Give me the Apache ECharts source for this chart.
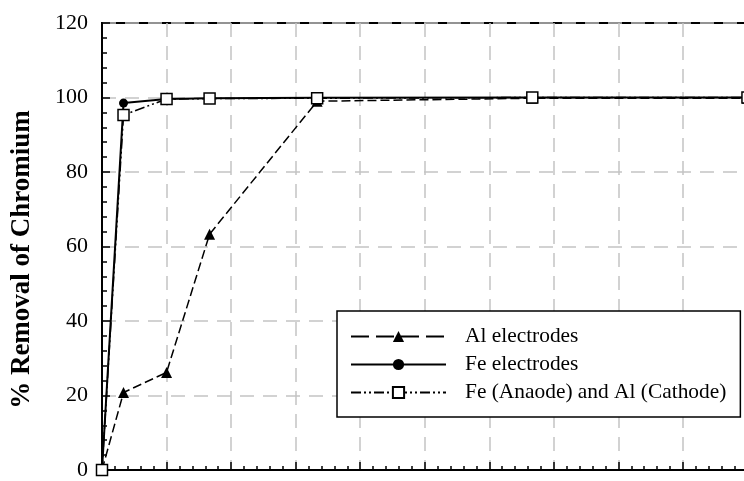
<!DOCTYPE html>
<html>
<head>
<meta charset="utf-8">
<script src="https://cdn.jsdelivr.net/npm/echarts@6/dist/echarts.min.js"></script>
<style>html,body{margin:0;padding:0;background:#fff;overflow:hidden;width:744px;height:481px;}#c{width:830px;height:481px;}</style>
</head>
<body>
<div id="c"></div>
<script>
var time = [0, 5, 15, 25, 50, 100, 150];
var alElectrodes = [0, 20.8, 26.2, 63.3, 99.0, 99.8, 99.8];
var feElectrodes = [0, 98.5, 99.6, 99.8, 99.9, 100, 100];
var feAlElectrodes = [0, 95.3, 99.6, 99.7, 99.8, 100, 100];
var seriesNames = ['Al electrodes', 'Fe electrodes', 'Fe (Anaode) and Al (Cathode)'];
var yTitle = '% Removal of Chromium';

function pairs(ys) { return time.map(function (t, i) { return [t, ys[i]]; }); }

var chart = echarts.init(document.getElementById('c'), null, {renderer: 'canvas'});
var serif = 'Liberation Serif';
chart.setOption({
  animation: false,
  backgroundColor: '#fff',
  grid: {left: 102, top: 23, bottom: 5, right: 18, show: true, borderColor: '#000', borderWidth: 2, backgroundColor: 'transparent'},
  legend: {
    orient: 'vertical', left: 337, top: 311,
    padding: [15, 14, 14, 13],
    backgroundColor: '#fff', borderColor: '#000', borderWidth: 1.5, borderRadius: 0,
    itemWidth: 95, itemHeight: 14, itemGap: 7,
    textStyle: {fontFamily: serif, fontSize: 21.4, color: '#000', padding: [0, 0, 0, 14]},
    data: [
      {name: seriesNames[0], lineStyle: {type: [18, 7]}},
      {name: seriesNames[1]},
      {name: seriesNames[2]}
    ]
  },
  xAxis: {
    type: 'value', min: 0, max: 165, interval: 15,
    axisLine: {show: true, lineStyle: {color: '#000', width: 2}},
    axisTick: {show: true, inside: true, length: 8, lineStyle: {color: '#000', width: 1.5}},
    minorTick: {show: true, splitNumber: 5, length: 4, lineStyle: {color: '#000', width: 1.5}},
    axisLabel: {show: false},
    splitLine: {show: true, lineStyle: {color: '#c4c4c4', width: 1.5, type: [14, 9]}}
  },
  yAxis: {
    type: 'value', min: 0, max: 120, interval: 20,
    name: yTitle, nameLocation: 'middle', nameGap: 66,
    nameTextStyle: {fontFamily: serif, fontSize: 27, fontWeight: 'bold', color: '#000', padding: [0, 26, 0, 0]},
    axisLine: {show: true, lineStyle: {color: '#000', width: 2}},
    axisTick: {show: true, inside: true, length: 8, lineStyle: {color: '#000', width: 1.5}},
    minorTick: {show: true, splitNumber: 5, length: 5, lineStyle: {color: '#000', width: 1.5}},
    axisLabel: {fontFamily: serif, fontSize: 22, color: '#000', margin: 14},
    splitLine: {show: true, lineStyle: {color: '#c4c4c4', width: 1.5, type: [14, 9]}}
  },
  series: [
    {
      name: seriesNames[0], type: 'line', data: pairs(alElectrodes),
      symbol: 'triangle', symbolSize: 11, showAllSymbol: true,
      lineStyle: {color: '#000', width: 1.5, type: [9, 4]},
      itemStyle: {color: '#000', borderColor: '#000', borderWidth: 0}
    },
    {
      name: seriesNames[1], type: 'line', data: pairs(feElectrodes),
      symbol: 'circle', symbolSize: 9, showAllSymbol: true,
      lineStyle: {color: '#000', width: 2, type: 'solid'},
      itemStyle: {color: '#000', borderColor: '#000', borderWidth: 0}
    },
    {
      name: seriesNames[2], type: 'line', data: pairs(feAlElectrodes),
      symbol: 'rect', symbolSize: 11, showAllSymbol: true,
      lineStyle: {color: '#000', width: 1.5, type: [10, 3, 2, 3, 2, 3]},
      itemStyle: {color: '#fff', borderColor: '#000', borderWidth: 1.5}
    }
  ]
});
</script>
</body>
</html>
